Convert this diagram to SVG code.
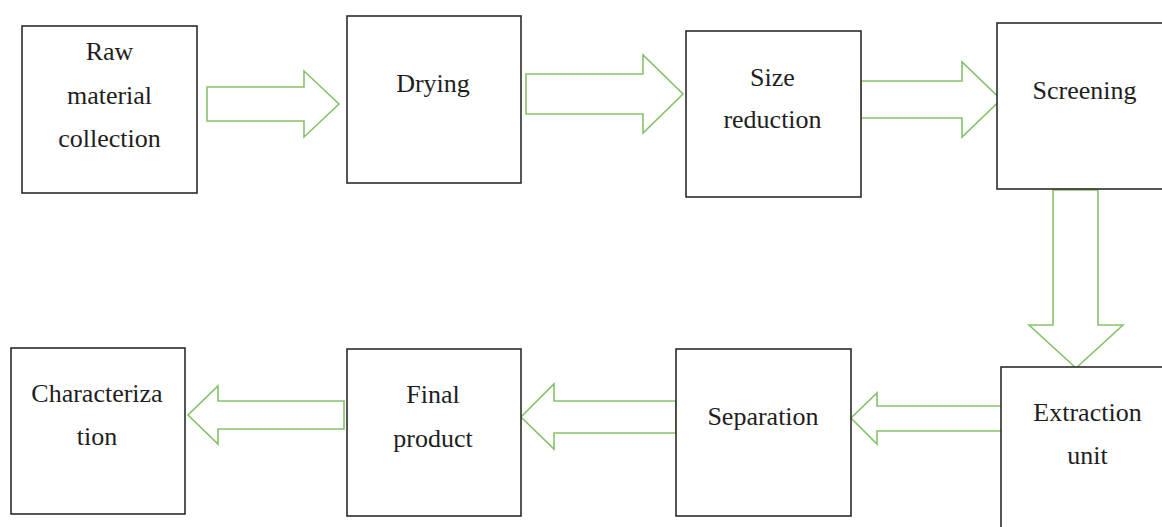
<svg xmlns="http://www.w3.org/2000/svg" width="1162" height="527" viewBox="0 0 1162 527">
<style>
.box{fill:#fff;stroke:#2b2b2b;stroke-width:1.6}
.arr{fill:#fff;stroke:#86c26a;stroke-width:1.6;stroke-linejoin:miter}
text{font-family:"Liberation Serif","Times New Roman",serif;font-size:26px;fill:#1e1e1e;text-anchor:middle}
</style>
<rect width="1162" height="527" fill="#fff"/>
<g id="connectors">
<polygon class="arr" points="207,87 304,87 304,71 339,104 304,137 304,121 207,121"/>
<polygon class="arr" points="526,74 643,74 643,55 683,94 643,133 643,114 526,114"/>
<polygon class="arr" points="861,81 962,81 962,62 1001,99.5 962,137 962,118 861,118"/>
<polygon class="arr" points="1053,190 1098,190 1098,325 1123,325 1076,368 1029,325 1053,325"/>
<polygon class="arr" points="1003,406 877,406 877,393 851,418 877,444 877,431 1003,431"/>
<polygon class="arr" points="676,401 554,401 554,384 521,417 554,449 554,433 676,433"/>
<polygon class="arr" points="344,401 218,401 218,386 188,415 218,444 218,429 344,429"/>
</g>
<g id="raw"><rect class="box" x="22" y="26" width="175" height="167"/>
<text x="109.5" y="60">Raw</text><text x="109.5" y="104">material</text><text x="109.5" y="147">collection</text></g>
<g id="drying"><rect class="box" x="347" y="16" width="174" height="167"/>
<text x="433" y="92">Drying</text></g>
<g id="size"><rect class="box" x="686" y="31" width="175" height="166"/>
<text x="772.5" y="86">Size</text><text x="772.5" y="128">reduction</text></g>
<g id="screening"><rect class="box" x="997" y="23" width="175" height="166"/>
<text x="1084.5" y="99">Screening</text></g>
<g id="extraction"><rect class="box" x="1001" y="367" width="175" height="175"/>
<text x="1087.5" y="421">Extraction</text><text x="1087.5" y="464">unit</text></g>
<g id="separation"><rect class="box" x="676" y="349" width="175" height="167"/>
<text x="763" y="425">Separation</text></g>
<g id="final"><rect class="box" x="347" y="349" width="174" height="167"/>
<text x="433" y="403">Final</text><text x="433" y="447">product</text></g>
<g id="characterization"><rect class="box" x="11" y="348" width="174" height="166"/>
<text x="97" y="402">Characteriza</text><text x="97" y="445">tion</text></g>
</svg>
